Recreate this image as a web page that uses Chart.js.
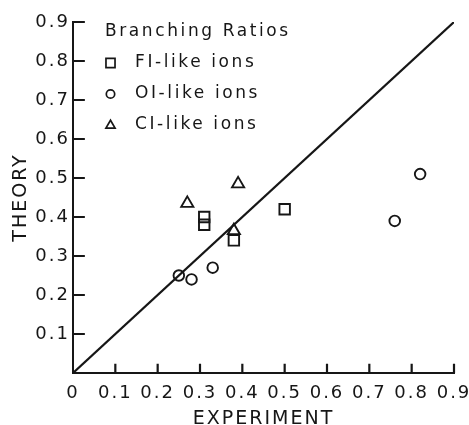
<!DOCTYPE html>
<html>
<head>
<meta charset="utf-8">
<script src="https://cdn.jsdelivr.net/npm/chart.js@4/dist/chart.umd.min.js"></script>
<style>
  html, body { margin: 0; padding: 0; background: #ffffff; }
  #wrap { width: 469px; height: 425px; }
</style>
</head>
<body>
<div id="wrap"><canvas id="c" width="469" height="425"></canvas></div>
<script>
// Tick labels
const xTickLabels = ['0', '0.1', '0.2', '0.3', '0.4', '0.5', '0.6', '0.7', '0.8', '0.9'];
const yTickLabels = ['', '0.1', '0.2', '0.3', '0.4', '0.5', '0.6', '0.7', '0.8', '0.9'];

// Branching ratios: experiment (x) vs theory (y)
const fiExperiment = [0.31, 0.31, 0.38, 0.50];
const fiTheory     = [0.40, 0.38, 0.34, 0.42];
const oiExperiment = [0.25, 0.28, 0.33, 0.76, 0.82];
const oiTheory     = [0.25, 0.24, 0.27, 0.39, 0.51];
const ciExperiment = [0.27, 0.39, 0.38];
const ciTheory     = [0.435, 0.485, 0.365];

// Line of perfect agreement
const diagonal = [0, 0.9];

const INK = '#161616';
const FONT = 'DejaVu Sans';

const pairs = (xs, ys) => xs.map((x, i) => ({ x: x, y: ys[i] }));

// Inward tick marks, as short segments in data units (null breaks the line)
const X_TICK_LEN = 0.024;
const Y_TICK_LEN = 0.028;
const tickSegments = [];
xTickLabels.forEach((_, i) => {
  if (i === 0) return;
  const v = i / 10;
  tickSegments.push({ x: v, y: 0 }, { x: v, y: X_TICK_LEN }, { x: v, y: null });
});
yTickLabels.forEach((_, i) => {
  if (i === 0) return;
  const v = i / 10;
  tickSegments.push({ x: 0, y: v }, { x: Y_TICK_LEN, y: v }, { x: null, y: null });
});

// Wide, lettering-guide style spacing for all axis text
const spacing = {
  id: 'spacing',
  beforeLayout(chart) { chart.ctx.letterSpacing = '2px'; },
  beforeDraw(chart) { chart.ctx.letterSpacing = '2px'; }
};

// Key in the upper left of the plot area
const ratioKey = {
  id: 'ratioKey',
  afterDraw(chart) {
    const ctx = chart.ctx;
    ctx.save();
    ctx.letterSpacing = '2.6px';
    ctx.font = '17px "' + FONT + '"';
    ctx.fillStyle = INK;
    ctx.textBaseline = 'middle';
    ctx.textAlign = 'left';
    ctx.fillText('Branching Ratios', 105, 32);
    const rows = [
      { ds: 0, y: 63, r: 6.4, dy: 0 },
      { ds: 1, y: 94, r: 4.2, dy: 0 },
      { ds: 2, y: 125, r: 5.3, dy: 0.5 }
    ];
    rows.forEach(row => {
      const d = chart.data.datasets[row.ds];
      ctx.fillStyle = 'rgba(0,0,0,0)';
      ctx.strokeStyle = INK;
      ctx.lineWidth = 1.7;
      Chart.helpers.drawPoint(ctx, { pointStyle: d.pointStyle, radius: row.r, borderWidth: 1.7, rotation: 0 }, 110.5, row.y + row.dy);
      ctx.fillStyle = INK;
      ctx.fillText(d.label, 135, row.y);
    });
    ctx.restore();
  }
};

const markerBase = {
  showLine: false,
  borderColor: INK,
  backgroundColor: 'rgba(0,0,0,0)',
  pointBorderColor: INK,
  pointBackgroundColor: 'rgba(0,0,0,0)',
  pointBorderWidth: 1.9,
  pointHoverRadius: 0
};

new Chart(document.getElementById('c'), {
  type: 'scatter',
  data: {
    datasets: [
      Object.assign({ label: 'FI-like ions', data: pairs(fiExperiment, fiTheory), pointStyle: 'rect', pointRadius: 7.4 }, markerBase),
      Object.assign({ label: 'OI-like ions', data: pairs(oiExperiment, oiTheory), pointStyle: 'circle', pointRadius: 5.3 }, markerBase),
      Object.assign({ label: 'CI-like ions', data: pairs(ciExperiment, ciTheory), pointStyle: 'triangle', pointRadius: 7 }, markerBase),
      {
        label: 'agreement',
        data: pairs(diagonal, diagonal),
        showLine: true,
        pointRadius: 0,
        borderColor: INK,
        borderWidth: 2.2,
        fill: false
      },
      {
        label: 'ticks',
        data: tickSegments,
        showLine: true,
        spanGaps: false,
        pointRadius: 0,
        borderColor: INK,
        borderWidth: 2.2,
        borderCapStyle: 'butt',
        fill: false,
        clip: false
      }
    ]
  },
  options: {
    responsive: false,
    animation: false,
    devicePixelRatio: 1,
    layout: { autoPadding: false, padding: { top: 22, right: 15, left: 0, bottom: 0 } },
    plugins: { legend: { display: false }, tooltip: { enabled: false } },
    scales: {
      x: {
        type: 'linear',
        min: 0, max: 0.9,
        afterBuildTicks(scale) { scale.ticks = xTickLabels.map((_, i) => ({ value: i / 10 })); },
        afterFit(scale) { scale.height = 52; scale.paddingLeft = 0; scale.paddingRight = 0; },
        border: { display: true, color: INK, width: 2 },
        grid: { display: false, drawTicks: false },
        ticks: {
          color: INK,
          padding: 10,
          maxRotation: 0,
          autoSkip: false,
          font: { family: FONT, size: 18, lineHeight: 1.2 },
          callback: (v, i) => xTickLabels[i]
        },
        title: {
          display: true,
          text: 'EXPERIMENT',
          color: INK,
          font: { family: FONT, size: 19, lineHeight: 0.6 },
          padding: { top: 0, bottom: 0 }
        }
      },
      y: {
        type: 'linear',
        min: 0, max: 0.9,
        afterBuildTicks(scale) { scale.ticks = yTickLabels.map((_, i) => ({ value: i / 10 })); },
        afterFit(scale) { scale.width = 73; scale.paddingTop = 0; scale.paddingBottom = 0; },
        border: { display: true, color: INK, width: 2 },
        grid: { display: false, drawTicks: false },
        ticks: {
          color: INK,
          padding: 3,
          autoSkip: false,
          font: { family: FONT, size: 18, lineHeight: 1.2 },
          callback: (v, i) => yTickLabels[i]
        },
        title: {
          display: true,
          text: 'THEORY',
          color: INK,
          font: { family: FONT, size: 19, lineHeight: 1.2 },
          padding: { top: 10, bottom: 0 }
        }
      }
    }
  },
  plugins: [spacing, ratioKey]
});
</script>
</body>
</html>
